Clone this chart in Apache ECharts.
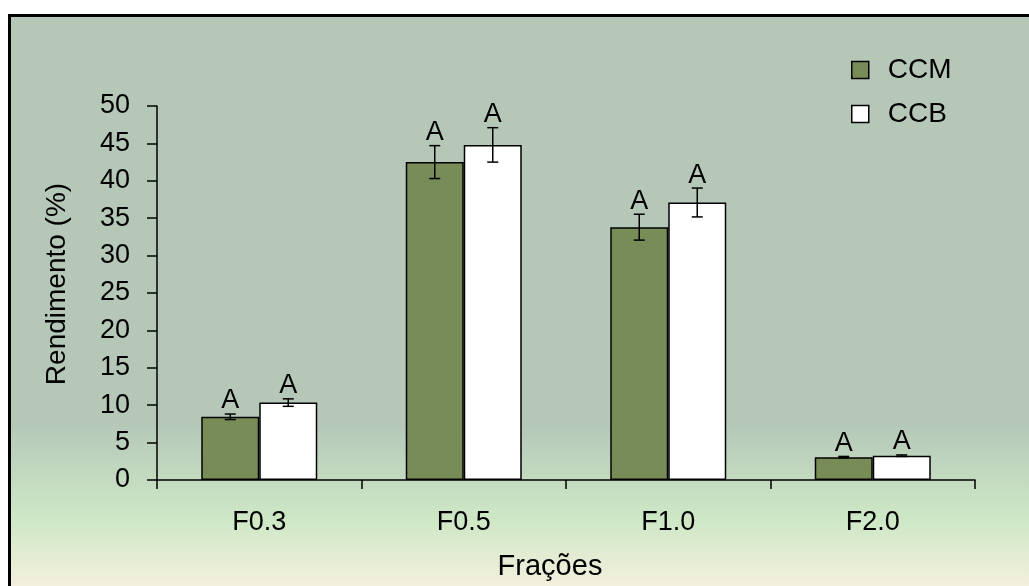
<!DOCTYPE html>
<html><head><meta charset="utf-8">
<script src="https://cdn.jsdelivr.net/npm/echarts@6/dist/echarts.min.js"></script>
<style>html,body{margin:0;padding:0;background:#fff;}#c{width:1029px;height:586px;}</style>
</head><body><div id="c"></div>
<script>
var categories = ['F0.3', 'F0.5', 'F1.0', 'F2.0'];
var ccm = [8.45, 42.5, 33.8, 3.05];
var ccb = [10.35, 44.8, 37.1, 3.25];
var ccmErr = [0.37, 2.2, 1.73, 0.1];
var ccbErr = [0.5, 2.3, 1.93, 0.1];
var ccmLetters = ['A', 'A', 'A', 'A'];
var ccbLetters = ['A', 'A', 'A', 'A'];
var yTicks = [0, 5, 10, 15, 20, 25, 30, 35, 40, 45, 50];

var FONT = 'Liberation Sans, Arial, sans-serif';
var BAR_W = 58;

function errData(vals, errs, letters) {
  return vals.map(function (v, i) { return [i, v, errs[i], letters[i]]; });
}
function makeErr(offsetSign) {
  return function (params, api) {
    var idx = api.value(0), v = api.value(1), e = api.value(2);
    var hi = api.coord([idx, v + e]);
    var lo = api.coord([idx, v - e]);
    var x = hi[0] + offsetSign * BAR_W / 2;
    var cap = 5.5;
    var st = { stroke: '#000', lineWidth: 1.5 };
    return {
      type: 'group',
      children: [
        { type: 'line', shape: { x1: x, y1: hi[1], x2: x, y2: lo[1] }, style: st },
        { type: 'line', shape: { x1: x - cap, y1: hi[1], x2: x + cap, y2: hi[1] }, style: st },
        { type: 'line', shape: { x1: x - cap, y1: lo[1], x2: x + cap, y2: lo[1] }, style: st },
        { type: 'text', style: { text: api.value(3), x: x, y: hi[1] + 0.5, align: 'center', verticalAlign: 'bottom', font: '27px ' + FONT, fill: '#000' } }
      ]
    };
  };
}

var chart = echarts.init(document.getElementById('c'));
chart.setOption({
  animation: false,
  graphic: [{
    type: 'rect', z: -10, silent: true,
    shape: { x: 9.5, y: 15.5, width: 1030, height: 600 },
    style: {
      stroke: '#000', lineWidth: 3,
      fill: new echarts.graphic.LinearGradient(0, 0, 0, 1, [
        { offset: 0, color: '#B5C8B8' },
        { offset: 0.68, color: '#B5C8B8' },
        { offset: 0.84, color: '#CEE8C6' },
        { offset: 0.95, color: '#F4F0DD' },
        { offset: 1, color: '#F6F1E0' }
      ])
    }
  }],
  legend: {
    orient: 'vertical', left: 846, top: 51,
    icon: 'rect', itemWidth: 17, itemHeight: 17, itemGap: 16,
    textStyle: { fontFamily: FONT, fontSize: 28, color: '#000', padding: [0, 0, 0, 14] },
    data: [
      { name: 'CCM', itemStyle: { color: '#778C57', borderColor: '#000', borderWidth: 1.5 } },
      { name: 'CCB', itemStyle: { color: '#FFFFFF', borderColor: '#000', borderWidth: 1.5 } }
    ]
  },
  grid: { left: 157, right: 54, top: 106, bottom: 105, containLabel: false },
  xAxis: {
    type: 'category', data: categories,
    name: 'Frações', nameLocation: 'middle', nameGap: 72,
    nameTextStyle: { fontFamily: FONT, fontSize: 29, color: '#000', padding: [0, 32, 0, 0] },
    axisLine: { lineStyle: { color: '#000', width: 1.5 } },
    axisTick: { show: true, length: 9, lineStyle: { color: '#000', width: 1.5 } },
    axisLabel: { fontFamily: FONT, fontSize: 27, color: '#000', margin: 29 }
  },
  yAxis: {
    type: 'value', min: 0, max: 50, interval: 5,
    name: 'Rendimento (%)', nameLocation: 'middle', nameGap: 86,
    nameTextStyle: { fontFamily: FONT, fontSize: 28, color: '#000', padding: [0, 0, 0, 18] },
    axisLine: { show: true, lineStyle: { color: '#000', width: 1.5 } },
    axisTick: { show: true, length: 10, lineStyle: { color: '#000', width: 1.5 } },
    splitLine: { show: false },
    axisLabel: { fontFamily: FONT, fontSize: 27, color: '#000', margin: 27,
      formatter: function (v) { return yTicks.indexOf(v) >= 0 ? String(v) : ''; } }
  },
  series: [
    { name: 'CCM', type: 'bar', data: ccm, barWidth: BAR_W, barGap: '0%',
      itemStyle: { color: '#778C57', borderColor: '#000', borderWidth: 1.5 } },
    { name: 'CCB', type: 'bar', data: ccb, barWidth: BAR_W, barGap: '0%',
      itemStyle: { color: '#FFFFFF', borderColor: '#000', borderWidth: 1.5 } },
    { type: 'custom', renderItem: makeErr(-1), data: errData(ccm, ccmErr, ccmLetters), z: 5, encode: { x: 0, y: 1 } },
    { type: 'custom', renderItem: makeErr(1), data: errData(ccb, ccbErr, ccbLetters), z: 5, encode: { x: 0, y: 1 } }
  ]
});
</script></body></html>
